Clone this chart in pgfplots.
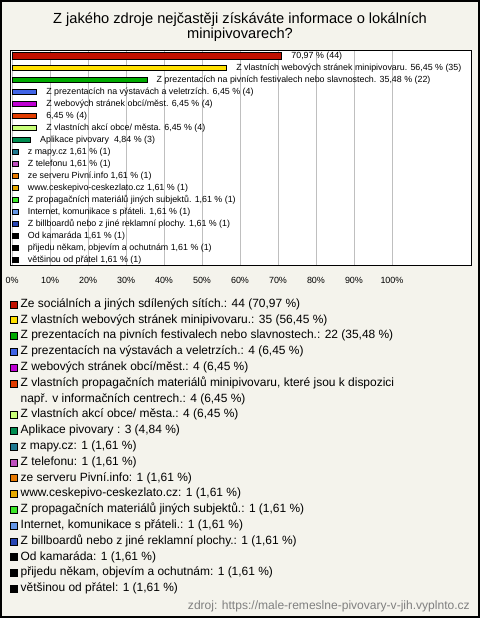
\documentclass[border=0pt]{standalone}
\usepackage{pgfplots}
\pgfplotsset{compat=1.18}
\usepackage{fontspec}
\setmainfont{Liberation Sans}
\definecolor{bgc}{RGB}{244,243,236}
\definecolor{c1}{RGB}{192,16,0}
\definecolor{c2}{RGB}{255,224,0}
\definecolor{c3}{RGB}{0,170,0}
\definecolor{c4}{RGB}{64,100,230}
\definecolor{c5}{RGB}{190,0,210}
\definecolor{c6}{RGB}{225,60,0}
\definecolor{c7}{RGB}{200,255,120}
\definecolor{c8}{RGB}{0,140,80}
\definecolor{c9}{RGB}{30,120,144}
\definecolor{c10}{RGB}{190,80,190}
\definecolor{c11}{RGB}{230,120,0}
\definecolor{c12}{RGB}{230,170,0}
\definecolor{c13}{RGB}{60,230,40}
\definecolor{c14}{RGB}{100,150,230}
\definecolor{c15}{RGB}{40,70,180}
\definecolor{c16}{RGB}{0,0,0}
\begin{document}
\begin{tikzpicture}
\useasboundingbox (0bp,0bp) rectangle (480bp,618bp);
\fill[bgc] (0bp,0bp) rectangle (480bp,618bp);
\draw[black,line width=2bp] (1bp,1bp) rectangle (479bp,617bp);
\node[align=center,font=\fontsize{14.7}{13.6}\selectfont,inner sep=0pt] at (240bp,591bp) {Z jakého zdroje nejčastěji získáváte informace o lokálních\\minipivovarech?};
\node[anchor=east,font=\fontsize{12.1}{12}\selectfont,text=gray,inner sep=0pt] at (470bp,12bp) {zdroj: https://male-remeslne-pivovary-v-jih.vyplnto.cz};
\begin{axis}[
  at={(10.5bp,352.3bp)}, anchor=south west,
  scale only axis, width=460.5bp, height=215.7bp,
  xmin=-0.4, xmax=120.8, ymin=0.5, ymax=18.5, y dir=reverse,
  xbar,
  every axis plot/.append style={bar shift=0pt, bar width=5bp, draw=black, line width=0.5bp},
  axis background/.style={fill=white},
  axis line style={black, line width=0.8bp},
  xtick={0,10,...,100},
  xticklabels={0\%,10\%,20\%,30\%,40\%,50\%,60\%,70\%,80\%,90\%,100\%},
  xmajorgrids, grid style={black!25, line width=0.6bp},
  ytick=\empty, major tick length=0pt,
  xticklabel style={font=\fontsize{9}{10}\selectfont, inner sep=0pt, anchor=north, yshift=-11bp},
  nodes near coords, point meta=explicit symbolic,
  nodes near coords style={anchor=west, inner sep=0pt, xshift=9.5bp, font=\fontsize{8.9}{9}\selectfont, text=black},
  legend style={at={(axis description cs:-0.002,-0.1426)}, anchor=north west, draw=none, fill=none, inner sep=0pt, outer sep=0pt, row sep=0pt, column sep=3.5bp, font=\fontsize{12}{14}\selectfont, nodes={inner sep=0pt, text height=10.8bp, text depth=5bp}},
  legend cell align=left,
  legend image code/.code={\draw[#1,draw=black,line width=0.6bp] (0bp,-3.5bp) rectangle (7bp,3.5bp);},
]
\addplot[fill=c1, bar width=6.5bp] coordinates {(70.97,1) [70,97 \% (44)]};
\addlegendentry{Ze sociálních a jiných sdílených sítích.: 44 (70,97 \%)}
\addplot[fill=c2] coordinates {(56.45,2) [Z vlastních webových stránek minipivovaru. 56,45 \% (35)]};
\addlegendentry{Z vlastních webových stránek minipivovaru.: 35 (56,45 \%)}
\addplot[fill=c3] coordinates {(35.48,3) [Z prezentacích na pivních festivalech nebo slavnostech. 35,48 \% (22)]};
\addlegendentry{Z prezentacích na pivních festivalech nebo slavnostech.: 22 (35,48 \%)}
\addplot[fill=c4] coordinates {(6.45,4) [Z prezentacích na výstavách a veletrzích. 6,45 \% (4)]};
\addlegendentry{Z prezentacích na výstavách a veletrzích.: 4 (6,45 \%)}
\addplot[fill=c5] coordinates {(6.45,5) [Z webových stránek obcí/měst. 6,45 \% (4)]};
\addlegendentry{Z webových stránek obcí/měst.: 4 (6,45 \%)}
\addplot[fill=c6] coordinates {(6.45,6) [6,45 \% (4)]};
\addlegendentry{Z vlastních propagačních materiálů minipivovaru, které jsou k dispozici}
\addlegendimage{legend image code/.code={\path[draw=none,fill=none] (0bp,0bp) rectangle (7bp,0bp);}}
\addlegendentry{např. v informačních centrech.: 4 (6,45 \%)}
\addplot[fill=c7] coordinates {(6.45,7) [Z vlastních akcí obce/ města. 6,45 \% (4)]};
\addlegendentry{Z vlastních akcí obce/ města.: 4 (6,45 \%)}
\addplot[fill=c8] coordinates {(4.84,8) [Aplikace pivovary\ \ 4,84 \% (3)]};
\addlegendentry{Aplikace pivovary : 3 (4,84 \%)}
\addplot[fill=c9] coordinates {(1.61,9) [z mapy.cz 1,61 \% (1)]};
\addlegendentry{z mapy.cz: 1 (1,61 \%)}
\addplot[fill=c10] coordinates {(1.61,10) [Z telefonu 1,61 \% (1)]};
\addlegendentry{Z telefonu: 1 (1,61 \%)}
\addplot[fill=c11] coordinates {(1.61,11) [ze serveru Pivní.info 1,61 \% (1)]};
\addlegendentry{ze serveru Pivní.info: 1 (1,61 \%)}
\addplot[fill=c12] coordinates {(1.61,12) [www.ceskepivo-ceskezlato.cz 1,61 \% (1)]};
\addlegendentry{www.ceskepivo-ceskezlato.cz: 1 (1,61 \%)}
\addplot[fill=c13] coordinates {(1.61,13) [Z propagačních materiálů jiných subjektů. 1,61 \% (1)]};
\addlegendentry{Z propagačních materiálů jiných subjektů.: 1 (1,61 \%)}
\addplot[fill=c14] coordinates {(1.61,14) [Internet, komunikace s přáteli. 1,61 \% (1)]};
\addlegendentry{Internet, komunikace s přáteli.: 1 (1,61 \%)}
\addplot[fill=c15] coordinates {(1.61,15) [Z billboardů nebo z jiné reklamní plochy. 1,61 \% (1)]};
\addlegendentry{Z billboardů nebo z jiné reklamní plochy.: 1 (1,61 \%)}
\addplot[fill=c16] coordinates {(1.61,16) [Od kamaráda 1,61 \% (1)]};
\addlegendentry{Od kamaráda: 1 (1,61 \%)}
\addplot[fill=c16] coordinates {(1.61,17) [přijedu někam, objevím a ochutnám 1,61 \% (1)]};
\addlegendentry{přijedu někam, objevím a ochutnám: 1 (1,61 \%)}
\addplot[fill=c16] coordinates {(1.61,18) [většinou od přátel 1,61 \% (1)]};
\addlegendentry{většinou od přátel: 1 (1,61 \%)}
\end{axis}
\end{tikzpicture}
\end{document}
